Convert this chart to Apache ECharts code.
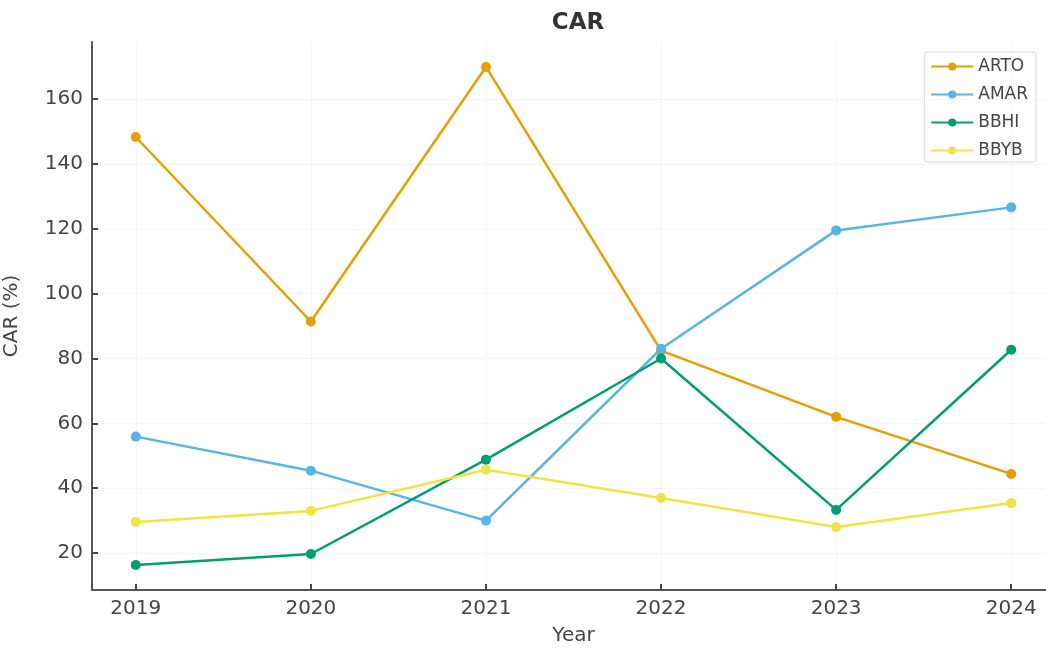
<!DOCTYPE html>
<html>
<head>
<meta charset="utf-8">
<script src="https://cdn.jsdelivr.net/npm/echarts@6/dist/echarts.min.js"></script>
<style>
  html, body { margin: 0; padding: 0; background: #fff; }
  #chart { width: 1046px; height: 648px; }
</style>
</head>
<body>
<div id="chart"></div>
<script>
  // data
  const years = [2019, 2020, 2021, 2022, 2023, 2024];
  const yTicks = [20, 40, 60, 80, 100, 120, 140, 160];
  const arto = [148.3, 91.4, 169.9, 82.4, 62.0, 44.4];
  const amar = [55.9, 45.4, 30.0, 83.0, 119.5, 126.6];
  const bbhi = [16.3, 19.7, 48.8, 80.0, 33.3, 82.7];
  const bbyb = [29.6, 33.0, 45.7, 37.0, 28.0, 35.4];

  const names = ['ARTO', 'AMAR', 'BBHI', 'BBYB'];
  const colors = ['#E69F00', '#56B4E9', '#009E73', '#F0E442'];
  const values = [arto, amar, bbhi, bbyb];

  const font = 'DejaVu Sans';

  const series = names.map(function (n, i) {
    return {
      name: n,
      type: 'line',
      data: years.map(function (y, j) { return [y, values[i][j]]; }),
      symbol: 'circle',
      symbolSize: 10,
      itemStyle: { color: colors[i] },
      lineStyle: { width: 2.5, color: colors[i] },
      emphasis: { disabled: true }
    };
  });

  const chart = echarts.init(document.getElementById('chart'));
  chart.setOption({
    animation: false,
    backgroundColor: '#fff',
    color: colors,
    title: {
      text: 'CAR',
      left: 573,
      textAlign: 'center',
      top: 7,
      textStyle: { fontFamily: font, fontSize: 23, fontWeight: 'bold', color: '#333' }
    },
    legend: {
      orient: 'vertical',
      right: 10,
      top: 52,
      itemWidth: 42,
      itemHeight: 10,
      itemGap: 11,
      padding: [6, 8, 3, 6],
      borderColor: '#d8d8d8',
      borderWidth: 1,
      borderRadius: 3,
      textStyle: { fontFamily: font, fontSize: 17, color: '#444' },
      data: names
    },
    grid: { left: 92, right: -9, top: 42, bottom: 58, outerBoundsMode: 'none', containLabel: false },
    xAxis: {
      type: 'value',
      min: 2018.75,
      max: 2024.25,
      name: 'Year',
      nameLocation: 'middle',
      nameGap: 36,
      nameTextStyle: { fontFamily: font, fontSize: 20, color: '#444' },
      axisLine: { lineStyle: { color: '#555', width: 2 } },
      axisTick: { show: true, inside: true, length: 6, lineStyle: { color: '#444', width: 2 }, customValues: years },
      axisLabel: { fontFamily: font, fontSize: 20, color: '#444', margin: 9, customValues: years, formatter: function (v) { return String(v); } },
      splitLine: { show: true, lineStyle: { color: '#ececec', type: 'dotted' } }
    },
    yAxis: {
      type: 'value',
      min: 8.6,
      max: 177.6,
      name: 'CAR (%)',
      nameLocation: 'middle',
      nameGap: 70,
      nameTextStyle: { fontFamily: font, fontSize: 20, color: '#444' },
      axisLine: { show: true, lineStyle: { color: '#555', width: 2 } },
      axisTick: { show: true, inside: true, length: 6, lineStyle: { color: '#444', width: 2 }, customValues: yTicks },
      axisLabel: { fontFamily: font, fontSize: 20, color: '#444', margin: 9, customValues: yTicks },
      splitLine: { show: true, lineStyle: { color: '#ececec', type: 'dotted' } }
    },
    series: series
  });
</script>
</body>
</html>
